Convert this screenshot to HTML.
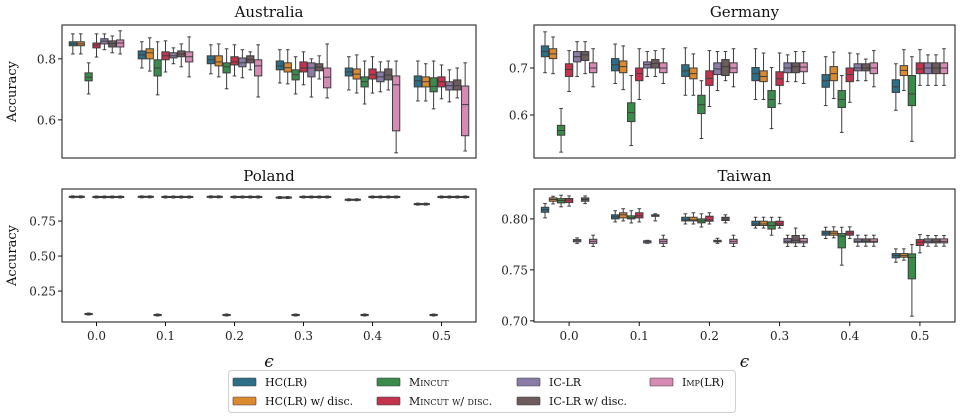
<!DOCTYPE html>
<html><head><meta charset="utf-8"><style>
body{margin:0;background:#fff}
svg{display:block;font-family:"DejaVu Serif","Liberation Serif",serif}
</style></head><body>
<svg id="fig" width="960" height="418" viewBox="0 0 960 418"></svg>
<script>
const methods = ["HC(LR)","HC(LR) w/ disc.","Mincut","Mincut w/ disc.","IC-LR","IC-LR w/ disc.","Imp(LR)"];
const colors = ["#2d6f88","#dc8a30","#3a8a4b","#c3334d","#8a7ca6","#6d5c5c","#d68bb4"];
const epsLabels = ["0.0","0.1","0.2","0.3","0.4","0.5"];
// [whisker low, q1, median, q3, whisker high] per eps, per method
const australia = [
 [[0.816,0.843,0.849,0.856,0.882],[0.816,0.843,0.849,0.856,0.882],[0.685,0.728,0.74,0.754,0.787],[0.806,0.836,0.845,0.852,0.882],[0.83,0.849,0.858,0.866,0.882],[0.82,0.839,0.85,0.859,0.875],[0.816,0.839,0.852,0.862,0.892]],
 [[0.77,0.8,0.813,0.826,0.856],[0.76,0.8,0.82,0.833,0.869],[0.682,0.744,0.77,0.797,0.856],[0.757,0.797,0.81,0.823,0.859],[0.784,0.803,0.81,0.82,0.836],[0.774,0.807,0.816,0.826,0.849],[0.741,0.79,0.807,0.823,0.872]],
 [[0.751,0.784,0.797,0.81,0.846],[0.741,0.777,0.79,0.81,0.849],[0.702,0.754,0.774,0.787,0.833],[0.744,0.78,0.79,0.807,0.846],[0.738,0.774,0.787,0.803,0.83],[0.764,0.787,0.797,0.81,0.823],[0.675,0.744,0.777,0.797,0.846]],
 [[0.721,0.764,0.777,0.793,0.83],[0.718,0.757,0.771,0.787,0.83],[0.685,0.731,0.748,0.764,0.807],[0.715,0.757,0.77,0.79,0.823],[0.675,0.741,0.77,0.787,0.8],[0.734,0.761,0.773,0.784,0.81],[0.672,0.705,0.74,0.77,0.849]],
 [[0.698,0.744,0.757,0.77,0.807],[0.688,0.734,0.75,0.767,0.813],[0.652,0.708,0.725,0.741,0.793],[0.688,0.734,0.748,0.767,0.807],[0.692,0.725,0.741,0.757,0.79],[0.698,0.731,0.747,0.767,0.793],[0.492,0.564,0.715,0.744,0.793]],
 [[0.662,0.708,0.728,0.744,0.793],[0.662,0.708,0.725,0.741,0.784],[0.636,0.692,0.71,0.738,0.793],[0.669,0.708,0.725,0.741,0.78],[0.659,0.698,0.712,0.725,0.764],[0.672,0.698,0.712,0.731,0.77],[0.498,0.548,0.65,0.711,0.787]]
];
const germany = [
 [[0.69,0.724,0.735,0.747,0.777],[0.688,0.72,0.73,0.741,0.766],[0.521,0.557,0.567,0.578,0.614],[0.65,0.682,0.697,0.709,0.737],[0.682,0.713,0.724,0.735,0.756],[0.688,0.716,0.728,0.735,0.756],[0.66,0.69,0.7,0.711,0.741]],
 [[0.667,0.694,0.707,0.72,0.751],[0.654,0.69,0.703,0.715,0.747],[0.535,0.586,0.605,0.626,0.684],[0.633,0.673,0.688,0.7,0.741],[0.682,0.7,0.707,0.713,0.735],[0.682,0.7,0.71,0.718,0.737],[0.667,0.69,0.7,0.711,0.741]],
 [[0.642,0.682,0.694,0.707,0.743],[0.642,0.677,0.688,0.7,0.73],[0.55,0.603,0.622,0.642,0.673],[0.618,0.663,0.678,0.694,0.737],[0.652,0.686,0.698,0.711,0.735],[0.673,0.684,0.703,0.718,0.735],[0.66,0.69,0.7,0.711,0.741]],
 [[0.633,0.673,0.688,0.701,0.741],[0.633,0.671,0.682,0.694,0.732],[0.571,0.616,0.633,0.652,0.701],[0.624,0.663,0.677,0.692,0.732],[0.671,0.69,0.7,0.711,0.728],[0.671,0.69,0.703,0.711,0.735],[0.667,0.692,0.702,0.711,0.735]],
 [[0.62,0.659,0.673,0.686,0.724],[0.635,0.673,0.688,0.703,0.734],[0.563,0.616,0.633,0.652,0.684],[0.627,0.671,0.686,0.7,0.732],[0.673,0.694,0.7,0.709,0.73],[0.673,0.694,0.7,0.709,0.719],[0.66,0.688,0.7,0.711,0.737]],
 [[0.61,0.648,0.66,0.675,0.709],[0.652,0.684,0.695,0.705,0.739],[0.544,0.62,0.645,0.684,0.724],[0.663,0.688,0.698,0.711,0.739],[0.663,0.688,0.7,0.711,0.728],[0.663,0.688,0.7,0.711,0.728],[0.663,0.688,0.7,0.711,0.741]]
];
const poland = [
 [[0.916,0.919,0.923,0.927,0.93],[0.916,0.919,0.923,0.927,0.93],[0.079,0.082,0.086,0.09,0.093],[0.915,0.918,0.922,0.926,0.929],[0.915,0.918,0.922,0.926,0.929],[0.915,0.918,0.922,0.926,0.929],[0.915,0.918,0.922,0.926,0.929]],
 [[0.916,0.919,0.923,0.927,0.93],[0.916,0.919,0.923,0.927,0.93],[0.072,0.075,0.079,0.083,0.086],[0.915,0.918,0.922,0.926,0.929],[0.915,0.918,0.922,0.926,0.929],[0.915,0.918,0.922,0.926,0.929],[0.915,0.918,0.922,0.926,0.929]],
 [[0.916,0.919,0.923,0.927,0.93],[0.916,0.919,0.923,0.927,0.93],[0.072,0.075,0.079,0.083,0.086],[0.915,0.918,0.922,0.926,0.929],[0.915,0.918,0.922,0.926,0.929],[0.915,0.918,0.922,0.926,0.929],[0.915,0.918,0.922,0.926,0.929]],
 [[0.911,0.914,0.918,0.922,0.925],[0.911,0.914,0.918,0.922,0.925],[0.072,0.075,0.079,0.083,0.086],[0.915,0.918,0.922,0.926,0.929],[0.915,0.918,0.922,0.926,0.929],[0.915,0.918,0.922,0.926,0.929],[0.915,0.918,0.922,0.926,0.929]],
 [[0.895,0.898,0.902,0.906,0.909],[0.895,0.898,0.902,0.906,0.909],[0.072,0.075,0.079,0.083,0.086],[0.915,0.918,0.922,0.926,0.929],[0.915,0.918,0.922,0.926,0.929],[0.915,0.918,0.922,0.926,0.929],[0.915,0.918,0.922,0.926,0.929]],
 [[0.864,0.867,0.871,0.875,0.878],[0.864,0.867,0.871,0.875,0.878],[0.072,0.075,0.079,0.083,0.086],[0.915,0.918,0.922,0.926,0.929],[0.915,0.918,0.922,0.926,0.929],[0.915,0.918,0.922,0.926,0.929],[0.915,0.918,0.922,0.926,0.929]]
];
const taiwan = [
 [[0.801,0.8065,0.809,0.8114,0.815],[0.8147,0.8173,0.819,0.8206,0.8222],[0.8118,0.8157,0.818,0.8199,0.8232],[0.8125,0.816,0.8185,0.82,0.8225],[0.776,0.7775,0.779,0.7797,0.7814],[0.815,0.8173,0.819,0.8206,0.8225],[0.773,0.776,0.778,0.78,0.784]],
 [[0.797,0.8,0.802,0.804,0.808],[0.798,0.801,0.804,0.806,0.81],[0.796,0.8,0.801,0.803,0.808],[0.797,0.801,0.803,0.806,0.81],[0.776,0.7765,0.778,0.7785,0.779],[0.798,0.8025,0.803,0.804,0.805],[0.773,0.776,0.778,0.78,0.784]],
 [[0.795,0.798,0.799,0.8016,0.805],[0.795,0.798,0.799,0.8016,0.806],[0.792,0.7961,0.798,0.8,0.805],[0.795,0.7977,0.799,0.8026,0.806],[0.776,0.7775,0.778,0.779,0.781],[0.7961,0.7984,0.8,0.8016,0.804],[0.773,0.776,0.778,0.78,0.784]],
 [[0.791,0.7935,0.795,0.7977,0.8016],[0.791,0.7935,0.795,0.7977,0.8016],[0.784,0.79,0.7935,0.7971,0.8016],[0.791,0.7935,0.795,0.7977,0.8016],[0.773,0.7765,0.778,0.7807,0.784],[0.773,0.7765,0.779,0.7837,0.791],[0.773,0.7765,0.778,0.7807,0.784]],
 [[0.7807,0.784,0.786,0.7879,0.7918],[0.7814,0.784,0.786,0.7879,0.7922],[0.7546,0.7716,0.783,0.7856,0.7918],[0.7807,0.784,0.786,0.7879,0.7922],[0.7732,0.7771,0.778,0.7804,0.784],[0.7732,0.7771,0.778,0.7804,0.784],[0.7732,0.7771,0.778,0.7804,0.784]],
 [[0.7575,0.7618,0.764,0.766,0.7706],[0.7595,0.7624,0.764,0.766,0.7706],[0.7046,0.7412,0.762,0.7657,0.7748],[0.7667,0.7739,0.777,0.7797,0.7846],[0.7732,0.7765,0.778,0.7804,0.7837],[0.7732,0.7765,0.778,0.7804,0.7837],[0.7732,0.7765,0.778,0.7804,0.7837]]
];
const ticksAus = [0.6,0.8], ticksGer = [0.6,0.7], ticksPol = [0.25,0.5,0.75], ticksTwn = [0.70,0.75,0.80];
const tickLabAus = ["0.6","0.8"], tickLabGer = ["0.6","0.7"], tickLabPol = ["0.25","0.50","0.75"], tickLabTwn = ["0.70","0.75","0.80"];

const NS="http://www.w3.org/2000/svg", svg=document.getElementById('fig');
function mk(tag,attrs,parent,text){const e=document.createElementNS(NS,tag);for(const k in attrs)e.setAttribute(k,attrs[k]);if(text!==undefined)e.textContent=text;(parent||svg).appendChild(e);return e;}

const panels=[
 {name:"australia",title:"Australia",data:australia,ticks:ticksAus,labs:tickLabAus,x0:62,x1:476,y0:25,y1:158,vmin:0.475,vmax:0.911,xt:false,yl:true},
 {name:"germany",title:"Germany",data:germany,ticks:ticksGer,labs:tickLabGer,x0:534,x1:955,y0:25,y1:158,vmin:0.5085,vmax:0.7915,xt:false,yl:false},
 {name:"poland",title:"Poland",data:poland,ticks:ticksPol,labs:tickLabPol,x0:62,x1:476,y0:189,y1:322,vmin:0.029,vmax:0.979,xt:true,yl:true},
 {name:"taiwan",title:"Taiwan",data:taiwan,ticks:ticksTwn,labs:tickLabTwn,x0:534,x1:955,y0:189,y1:322,vmin:0.6989,vmax:0.8293,xt:true,yl:false}
];
panels.forEach(p=>{
 const g=mk('g',{});
 
 
 const step=(p.x1-p.x0)/6.0;
 const xc=i=>p.x0+step*(i+0.5);
 const ys=v=>p.y1-(v-p.vmin)/(p.vmax-p.vmin)*(p.y1-p.y0);
 const t=mk('text',{x:(p.x0+p.x1)/2,y:p.y0-8,'text-anchor':'middle','font-size':15,fill:'#111'},g,p.title);
 
 
 const bw=step*0.8/7;
 p.data.forEach((grp,ei)=>{
  grp.forEach((s,mi)=>{
   const cx=xc(ei)+(mi-3)*bw, w=bw*0.92;
   const bg=mk('g',{},g);
   
   
   const st={stroke:'#3d3d3d','stroke-width':1,fill:'none'};
   mk('line',Object.assign({x1:cx,x2:cx,y1:ys(s[0]),y2:ys(s[1])},st),bg);
   mk('line',Object.assign({x1:cx,x2:cx,y1:ys(s[3]),y2:ys(s[4])},st),bg);
   mk('line',Object.assign({x1:cx-w/4,x2:cx+w/4,y1:ys(s[0]),y2:ys(s[0])},st),bg);
   mk('line',Object.assign({x1:cx-w/4,x2:cx+w/4,y1:ys(s[4]),y2:ys(s[4])},st),bg);
   mk('rect',{x:cx-w/2,y:ys(s[3]),width:w,height:Math.max(0.5,ys(s[1])-ys(s[3])),fill:colors[mi],stroke:'#3d3d3d','stroke-width':1},bg);
   mk('line',Object.assign({x1:cx-w/2,x2:cx+w/2,y1:ys(s[2]),y2:ys(s[2])},st),bg);
  });
  if(p.xt){
   mk('line',{x1:xc(ei),x2:xc(ei),y1:p.y1,y2:p.y1+4,stroke:'#111'},g);
   const tl=mk('text',{x:xc(ei),y:p.y1+18,'text-anchor':'middle','font-size':12,fill:'#222'},g,epsLabels[ei]);
   
   
  }
 });
 p.ticks.forEach((v,i)=>{
  const y=ys(v);
  mk('line',{x1:p.x0-4,x2:p.x0,y1:y,y2:y,stroke:'#111'},g);
  const tl=mk('text',{x:p.x0-6,y:y+4.5,'text-anchor':'end','font-size':12,fill:'#222'},g,p.labs[i]);
  
  
 });
 mk('rect',{x:p.x0,y:p.y0,width:p.x1-p.x0,height:p.y1-p.y0,fill:'none',stroke:'#111','stroke-width':1},g);
 if(p.yl){
  const yl=mk('text',{x:0,y:0,transform:'translate('+16+','+((p.y0+p.y1)/2)+') rotate(-90)','text-anchor':'middle','font-size':13,fill:'#111'},g,'Accuracy');
  
  
 }
 if(p.xt){
  const xl=mk('text',{x:(p.x0+p.x1)/2,y:367,'text-anchor':'middle','font-size':17,'font-style':'italic',fill:'#111'},g,'ϵ');
  
  
 }
});
// legend
const lg=mk('g',{});


mk('rect',{x:228.5,y:370.5,width:507,height:42,rx:3,fill:'#fff',stroke:'#d0d0d0'},lg);
const colX=[233,377,517,650];
const legLabels=[["HC(LR)",""],["HC(LR) w/ disc.",""],["Mincut","sc"],["Mincut w/ disc.","sc"],["IC-LR",""],["IC-LR w/ disc.",""],["Imp(LR)","sc"]];
legLabels.forEach((l,i)=>{
 const c=Math.floor(i/2), r=i%2;
 const eg=mk('g',{},lg);
 
 
 const y=378+r*19;
 mk('rect',{x:colX[c],y:y,width:23,height:8,fill:colors[i],stroke:'#3d3d3d','stroke-width':0.6,rx:1},eg);
 const tx=mk('text',{x:colX[c]+32,y:y+8,'font-size':11,fill:'#111'},eg,l[0]);
 if(l[1]==='sc')tx.setAttribute('style','font-variant:small-caps');
});
</script>
</body></html>
